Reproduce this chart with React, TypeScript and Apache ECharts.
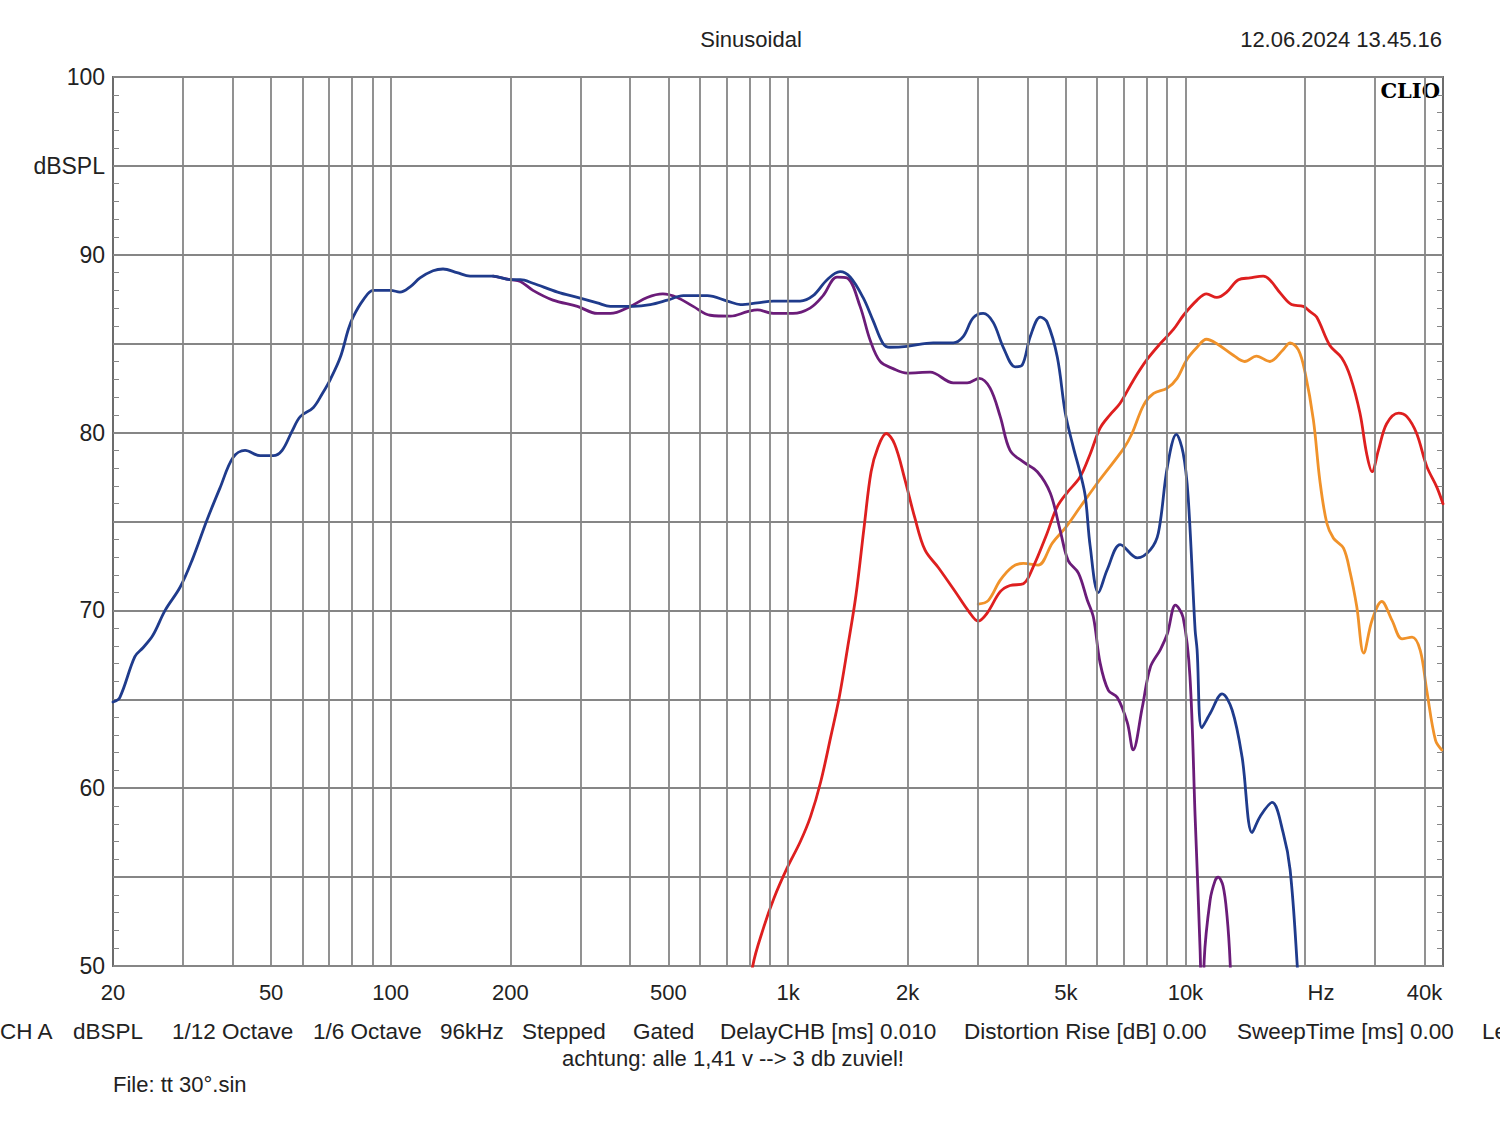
import React, { useEffect, useRef } from 'react';
import * as echarts from 'echarts';

const blueData: [number, number][] = [
  [20, 64.85], [20.8, 65.1], [22.7, 67.4], [23.8, 67.9], [25.2, 68.6], [27.05, 70.0], [29.5, 71.3], [31.6, 72.8],
  [34.5, 75.1], [37.2, 76.9], [40.1, 78.6], [43.0, 79.0], [46.9, 78.7], [50.6, 78.7], [53.3, 79.0], [56.5, 80.1],
  [59.2, 80.9], [63.8, 81.4], [67.3, 82.2], [70.5, 83.0], [74.7, 84.25], [78.2, 85.8], [80.4, 86.5], [85.2, 87.45],
  [90.3, 88.0], [100, 88.0], [105.5, 87.9], [111.9, 88.2], [118.5, 88.7], [127.8, 89.1], [135.4, 89.2], [146.8, 89.0],
  [158.4, 88.8], [181, 88.8], [200, 88.6], [212, 88.6], [228, 88.4], [263, 87.9], [295, 87.6], [331, 87.3],
  [357, 87.1], [408, 87.1], [450, 87.2], [497, 87.45], [545, 87.7], [626, 87.7], [703, 87.4], [759, 87.2],
  [837, 87.3], [918, 87.4], [1072, 87.4], [1156, 87.7], [1254, 88.6], [1352, 89.05], [1433, 88.75], [1544, 87.6],
  [1637, 86.3], [1735, 85.0], [1806, 84.8], [1994, 84.85], [2319, 85.05], [2605, 85.05], [2759, 85.4], [2923, 86.45],
  [3098, 86.7], [3283, 86.2], [3480, 84.8], [3730, 83.7], [3885, 83.8], [4070, 85.4], [4313, 86.5], [4490, 86.2],
  [4760, 84.25], [4986, 81.1], [5220, 79.2], [5440, 77.7], [5600, 76.4], [5760, 73.6], [6040, 71.0], [6360, 72.3],
  [6857, 73.7], [7570, 72.95], [8160, 73.4], [8550, 74.35], [9010, 78.1], [9490, 79.9], [9870, 78.85], [10160, 76.4],
  [10580, 68.9], [10700, 67.8], [11000, 63.4], [11540, 64.2], [12370, 65.3], [13110, 64.4], [13890, 61.75],
  [14720, 57.5], [15410, 58.4], [16530, 59.2], [17620, 57.5], [18350, 55.4], [19100, 50.2], [19400, 47]
];

const purpleData: [number, number][] = [
  [181, 88.8], [200, 88.6], [212, 88.5], [228, 88.0], [256, 87.45], [295, 87.1], [331, 86.7], [357, 86.7],
  [401, 87.1], [442, 87.6], [484, 87.8], [526, 87.6], [577, 87.1], [637, 86.6], [716, 86.55], [790, 86.8],
  [837, 86.9], [918, 86.7], [1029, 86.7], [1136, 87.0], [1225, 87.7], [1328, 88.75], [1408, 88.7], [1518, 87.1],
  [1609, 85.2], [1705, 84.0], [1838, 83.6], [1994, 83.35], [2278, 83.4], [2605, 82.8], [2824, 82.8], [3028, 83.05],
  [3225, 82.5], [3420, 80.9], [3620, 79.0], [3910, 78.35], [4240, 77.8], [4570, 76.6], [4840, 74.5], [5070, 72.8],
  [5380, 72.1], [5660, 70.6], [5870, 69.6], [6100, 67.05], [6400, 65.5], [6740, 65.1], [7140, 63.7], [7390, 62.15],
  [7790, 64.55], [8160, 66.8], [8650, 67.8], [9010, 68.7], [9440, 70.3], [9870, 69.6], [10270, 66.25], [10580, 58.4],
  [10890, 50.9], [11060, 45], [11150, 50.3], [11540, 53.7], [11880, 54.8], [12090, 55.0], [12440, 54.5],
  [12730, 52.8], [12960, 50.2], [13200, 45]
];

const redData: [number, number][] = [
  [790, 47], [815, 50.0], [869, 52.2], [921, 53.8], [994, 55.5], [1074, 57.0], [1139, 58.4], [1208, 60.35],
  [1281, 62.9], [1345, 65.1], [1412, 67.9], [1482, 70.85], [1556, 74.8], [1618, 77.8], [1682, 79.15], [1766, 79.95],
  [1855, 79.35], [1966, 77.4], [2085, 75.2], [2211, 73.4], [2391, 72.4], [2636, 71.05], [2849, 69.95], [3010, 69.4],
  [3160, 69.8], [3420, 71.05], [3620, 71.4], [3910, 71.5], [4140, 72.45], [4480, 74.3], [4750, 75.8], [5030, 76.6],
  [5430, 77.5], [5760, 78.8], [6100, 80.25], [6460, 81.0], [6850, 81.65], [7400, 82.95], [8000, 84.1], [8640, 85.0],
  [9330, 85.8], [9890, 86.6], [10700, 87.45], [11300, 87.8], [12000, 87.6], [12700, 87.9], [13600, 88.6],
  [14550, 88.7], [15700, 88.8], [16300, 88.6], [17400, 87.8], [18500, 87.2], [19800, 87.1], [20600, 86.8],
  [21400, 86.5], [23100, 84.9], [24750, 84.2], [26000, 83.15], [27500, 81.1], [28600, 78.8], [29500, 77.8],
  [30600, 79.0], [32100, 80.5], [34400, 81.1], [36100, 80.9], [38200, 79.95], [40500, 78.1], [42900, 76.95],
  [44500, 76.0]
];

const orangeData: [number, number][] = [
  [3010, 70.35], [3190, 70.55], [3420, 71.7], [3670, 72.45], [3910, 72.65], [4260, 72.55], [4630, 73.8],
  [5010, 74.7], [5430, 75.8], [6090, 77.35], [6990, 79.1], [7340, 79.95], [7850, 81.55], [8320, 82.2], [9000, 82.5],
  [9530, 83.05], [10080, 84.1], [10700, 84.8], [11300, 85.25], [12000, 85.0], [13200, 84.35], [14100, 84.0],
  [15100, 84.3], [16300, 84.0], [17600, 84.65], [18350, 85.05], [19250, 84.65], [20000, 83.4], [21000, 80.7],
  [21800, 77.3], [22700, 74.9], [23600, 74.05], [25000, 73.5], [26000, 72.1], [27000, 70.2], [28100, 67.6],
  [29500, 69.45], [31200, 70.5], [33100, 69.45], [35100, 68.4], [37200, 68.5], [39000, 67.75], [40500, 65.5],
  [42600, 62.7], [44200, 62.15]
];

const gridFreqs: number[] = [
  30, 40, 50, 60, 70, 80, 90, 100, 200, 300, 400, 500, 600, 700, 800, 900, 1000,
  2000, 3000, 4000, 5000, 6000, 7000, 8000, 9000, 10000, 20000, 30000, 40000
];
const xTickValues: number[] = [20, 50, 100, 200, 500, 1000, 2000, 5000, 10000, 20000, 40000];
const xTickLabels: string[] = ['20', '50', '100', '200', '500', '1k', '2k', '5k', '10k', 'Hz', '40k'];

const infoItems: [string, number][] = [
  ['CH A', 0], ['dBSPL', 73], ['1/12 Octave', 172], ['1/6 Octave', 313], ['96kHz', 440], ['Stepped', 522],
  ['Gated', 633], ['DelayCHB [ms] 0.010', 720], ['Distortion Rise [dB] 0.00', 964], ['SweepTime [ms] 0.00', 1237],
  ['Le', 1482]
];

const FONT = '"Liberation Sans", Arial, sans-serif';
const TXT = '#222222';
const GRID = '#868686';

export default function App() {
  const ref = useRef<HTMLDivElement>(null);
  useEffect(() => {
    document.body.style.margin = '0';
    document.body.style.background = '#ffffff';
    const chart = echarts.init(ref.current!, null, { renderer: 'svg' });
    const lineSeries = (name: string, data: [number, number][], color: string) => ({
      type: 'line',
      name,
      data,
      showSymbol: false,
      symbol: 'none',
      smooth: 0.35,
      clip: true,
      z: 3,
      lineStyle: { color, width: 2.8, cap: 'round', join: 'round' },
      silent: true
    });
    const yAxisBase = {
      type: 'value',
      min: 50,
      max: 100,
      interval: 5,
      axisLine: { show: false },
      axisTick: { show: true, inside: true, length: 6, lineStyle: { color: GRID, width: 1 } },
      minorTick: { show: true, splitNumber: 5, length: 6, lineStyle: { color: GRID, width: 1 } }
    };
    chart.setOption({
      animation: false,
      backgroundColor: '#ffffff',
      grid: { left: 113, top: 77, width: 1330, height: 889, show: true, borderColor: '#6c6c6c', borderWidth: 2 },
      xAxis: {
        type: 'log',
        logBase: 10,
        min: 20,
        max: 44500,
        axisLine: { show: false },
        axisTick: { show: false },
        axisLabel: { show: false },
        splitLine: { show: false }
      },
      yAxis: [
        {
          ...yAxisBase,
          position: 'left',
          splitLine: { show: true, lineStyle: { color: GRID, width: 1.8 } },
          axisLabel: {
            show: true,
            margin: 8,
            color: TXT,
            fontSize: 23,
            fontFamily: FONT,
            formatter: (v: number) => (v % 10 === 0 ? String(v) : v === 95 ? 'dBSPL' : '')
          }
        },
        {
          ...yAxisBase,
          position: 'right',
          splitLine: { show: false },
          axisLabel: { show: false }
        }
      ],
      series: [
        {
          type: 'line',
          name: 'grid',
          data: [],
          z: 1,
          silent: true,
          markLine: {
            silent: true,
            symbol: 'none',
            animation: false,
            label: { show: false },
            lineStyle: { color: GRID, width: 1.8, type: 'solid' },
            data: gridFreqs.map((f) => ({ xAxis: f }))
          }
        },
        lineSeries('Orange', orangeData, '#f0922a'),
        lineSeries('Red', redData, '#de1f1f'),
        lineSeries('Purple', purpleData, '#6b1c79'),
        lineSeries('Blue', blueData, '#1f3b8c')
      ]
    });

    const gfx: any[] = [];
    const txt = (text: string, x: number, y: number, align: string, size = 22, extra: any = {}) => ({
      type: 'text',
      x,
      y,
      silent: true,
      style: {
        text,
        fill: TXT,
        fontSize: size,
        fontFamily: FONT,
        textAlign: align,
        textVerticalAlign: 'middle',
        verticalAlign: 'middle',
        ...extra
      }
    });
    xTickValues.forEach((v, i) => {
      const px = chart.convertToPixel({ xAxisIndex: 0 }, v) as number;
      gfx.push(txt(xTickLabels[i], px + (xTickLabels[i] === 'Hz' ? 16 : 0), 992, 'center', 22));
    });
    gfx.push(txt('Sinusoidal', 751, 39, 'center', 22));
    gfx.push(txt('12.06.2024 13.45.16', 1442, 39, 'right', 22));
    infoItems.forEach(([t, x]) => gfx.push(txt(t, x, 1031, 'left', 22.5)));
    gfx.push(txt('achtung: alle 1,41 v --> 3 db zuviel!', 733, 1058, 'center', 22));
    gfx.push(txt('File: tt 30°.sin', 113, 1084, 'left', 22));
    gfx.push(txt('CLIO', 1440, 90, 'right', 21, { fontFamily: '"DejaVu Serif", serif', fontWeight: 'bold', fill: '#000000' }));
    chart.setOption({ graphic: gfx });

    return () => chart.dispose();
  }, []);
  return <div ref={ref} style={{ width: 1500, height: 1121 }} />;
}
